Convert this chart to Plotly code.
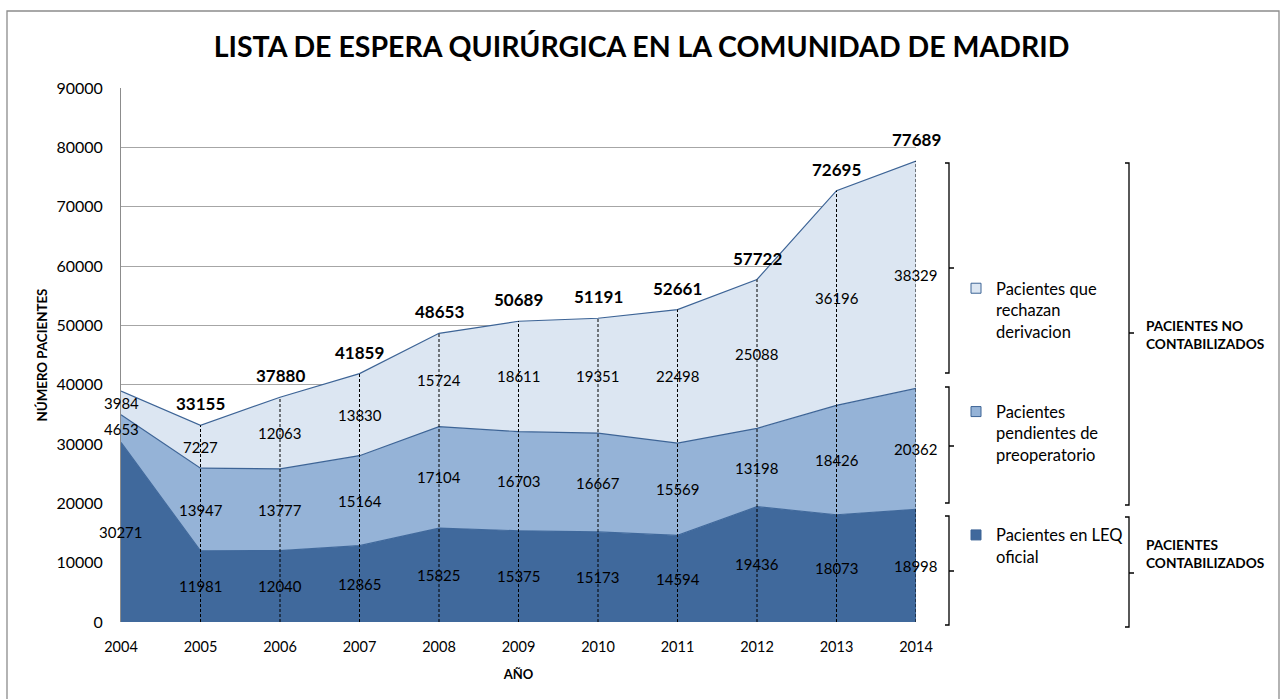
import plotly.graph_objects as go

years = [2004, 2005, 2006, 2007, 2008, 2009, 2010, 2011, 2012, 2013, 2014]
leq_oficial = [30271, 11981, 12040, 12865, 15825, 15375, 15173, 14594, 19436, 18073, 18998]
preoperatorio = [4653, 13947, 13777, 15164, 17104, 16703, 16667, 15569, 13198, 18426, 20362]
rechazan = [3984, 7227, 12063, 13830, 15724, 18611, 19351, 22498, 25088, 36196, 38329]
total_labels = [None, 33155, 37880, 41859, 48653, 50689, 51191, 52661, 57722, 72695, 77689]
y_ticks = [0, 10000, 20000, 30000, 40000, 50000, 60000, 70000, 80000, 90000]

series_names = ["Pacientes en LEQ<br>oficial",
                "Pacientes<br>pendientes de<br>preoperatorio",
                "Pacientes que<br>rechazan<br>derivacion"]
colors = ["#40699C", "#95B3D7", "#DCE6F2"]
edge_colors = ["#40699C", "#3D6496", "#3D6496"]

FONT = "Lato, Calibri, Carlito, sans-serif"

W, H = 1283, 699
L, R_ = 121, 916
T, B = 88, 622

def xp(px):
    return (px - L) / (R_ - L)

def yp(py):
    return (B - py) / (B - T)

fig = go.Figure()
all_series = [leq_oficial, preoperatorio, rechazan]
for i, (vals, name) in enumerate(zip(all_series, series_names)):
    fig.add_trace(go.Scatter(
        x=years, y=vals, name=name.replace("<br>", " "), stackgroup="one", mode="lines",
        line=dict(color=edge_colors[i], width=1.2),
        fillcolor=colors[i], showlegend=False,
        hoverinfo="x+y+name",
    ))

# legend entries (square swatches)
for i, name in enumerate(series_names):
    fig.add_trace(go.Scatter(
        x=[None], y=[None], name=name, mode="markers",
        marker=dict(symbol="square", size=10, color=colors[i],
                    line=dict(color="#3D6496", width=1)),
        legendgroup=f"g{i}", legendrank=3 - i, showlegend=True,
    ))

# cumulative sums
cum = []
run = [0] * len(years)
for vals in all_series:
    base = run[:]
    run = [a + b for a, b in zip(run, vals)]
    cum.append((base, run[:]))
totals = run

# dashed drop lines
dx, dy = [], []
for yr, tot in zip(years[1:], totals[1:]):
    dx += [yr, yr, None]
    dy += [0, tot, None]
fig.add_trace(go.Scatter(x=dx, y=dy, mode="lines", showlegend=False, hoverinfo="skip",
                         line=dict(color="black", width=1, dash="3px,2px")))

annotations = []
# value labels at middle of each band
for vals, (base, top) in zip(all_series, cum):
    for yr, v, b0 in zip(years, vals, base):
        annotations.append(dict(x=yr, y=b0 + v / 2, text=str(v), showarrow=False,
                                font=dict(family=FONT, size=15, color="black"),
                                xref="x", yref="y"))
# totals
for yr, lab, tot in zip(years, total_labels, totals):
    if lab is None:
        continue
    annotations.append(dict(x=yr, y=tot, text=f"<b>{lab}</b>", showarrow=False,
                            yanchor="bottom", yshift=9,
                            font=dict(family=FONT, size=17, color="black"),
                            xref="x", yref="y"))

# group labels
annotations.append(dict(x=xp(1144), y=yp(334), xref="paper", yref="paper",
                        text="<b>PACIENTES NO<br>CONTABILIZADOS</b>", showarrow=False,
                        xanchor="left", align="left",
                        font=dict(family=FONT, size=13.7, color="black")))
annotations.append(dict(x=xp(1144), y=yp(573), xref="paper", yref="paper",
                        text="<b>PACIENTES<br>CONTABILIZADOS</b>", showarrow=False,
                        xanchor="left", align="left",
                        font=dict(family=FONT, size=13.7, color="black")))

shapes = []
def bracket(x, top, bottom, tick_y, hook=4, tick=5):
    path = (f"M {xp(x - hook)},{yp(top)} L {xp(x)},{yp(top)} L {xp(x)},{yp(bottom)} "
            f"L {xp(x - hook)},{yp(bottom)} M {xp(x)},{yp(tick_y)} L {xp(x + tick)},{yp(tick_y)}")
    return dict(type="path", path=path, xref="paper", yref="paper",
                line=dict(color="black", width=1.3))

shapes.append(bracket(949, 163, 373, 268))
shapes.append(bracket(949, 387, 503, 446))
shapes.append(bracket(949, 516, 625, 571))
shapes.append(bracket(1129, 163, 505, 333))
shapes.append(bracket(1129, 517, 627, 573))

# outer border
shapes.append(dict(type="rect", xref="paper", yref="paper",
                   x0=xp(7), x1=xp(1279), y0=yp(705), y1=yp(11),
                   line=dict(color="#8C8C8C", width=1.3), layer="below"))

fig.update_layout(
    width=W, height=H,
    margin=dict(l=L, r=W - R_, t=T, b=H - B),
    paper_bgcolor="white", plot_bgcolor="white",
    font=dict(family=FONT, size=14, color="black"),
    title=dict(text="<b>LISTA DE ESPERA QUIRÚRGICA EN LA COMUNIDAD DE MADRID</b>",
               x=0.5, xanchor="center", y=1 - 47 / H, yanchor="middle",
               font=dict(family=FONT, size=28.5, color="black")),
    xaxis=dict(range=[2004, 2014], tickvals=years, ticktext=[str(y) for y in years],
               showgrid=False, zeroline=False, showline=False,
               ticks="", ticklabelstandoff=14, tickfont=dict(size=14.5),
               title=dict(text="<b>AÑO</b>", standoff=16,
                          font=dict(family=FONT, size=13))),
    yaxis=dict(range=[0, 90000], tickvals=y_ticks, ticktext=[str(v) for v in y_ticks],
               showgrid=True, gridcolor="#A6A6A6", gridwidth=1,
               zeroline=False, showline=True, linecolor="#8C8C8C", linewidth=1,
               ticks="", ticklabelstandoff=14, tickfont=dict(size=16),
               title=dict(text="<b>NÚMERO PACIENTES</b>", standoff=5,
                          font=dict(family=FONT, size=13.3))),
    legend=dict(x=xp(956), y=yp(271), xanchor="left", yanchor="top",
                traceorder="grouped", tracegroupgap=56, valign="top",
                font=dict(family=FONT, size=16.5, color="black"),
                bgcolor="rgba(0,0,0,0)", itemwidth=30),
    annotations=annotations,
    shapes=shapes,
    showlegend=True,
)

fig.write_html("out.html", config={"displayModeBar": False},
               post_script="document.body.style.margin='0px';document.body.style.overflow='hidden';")
